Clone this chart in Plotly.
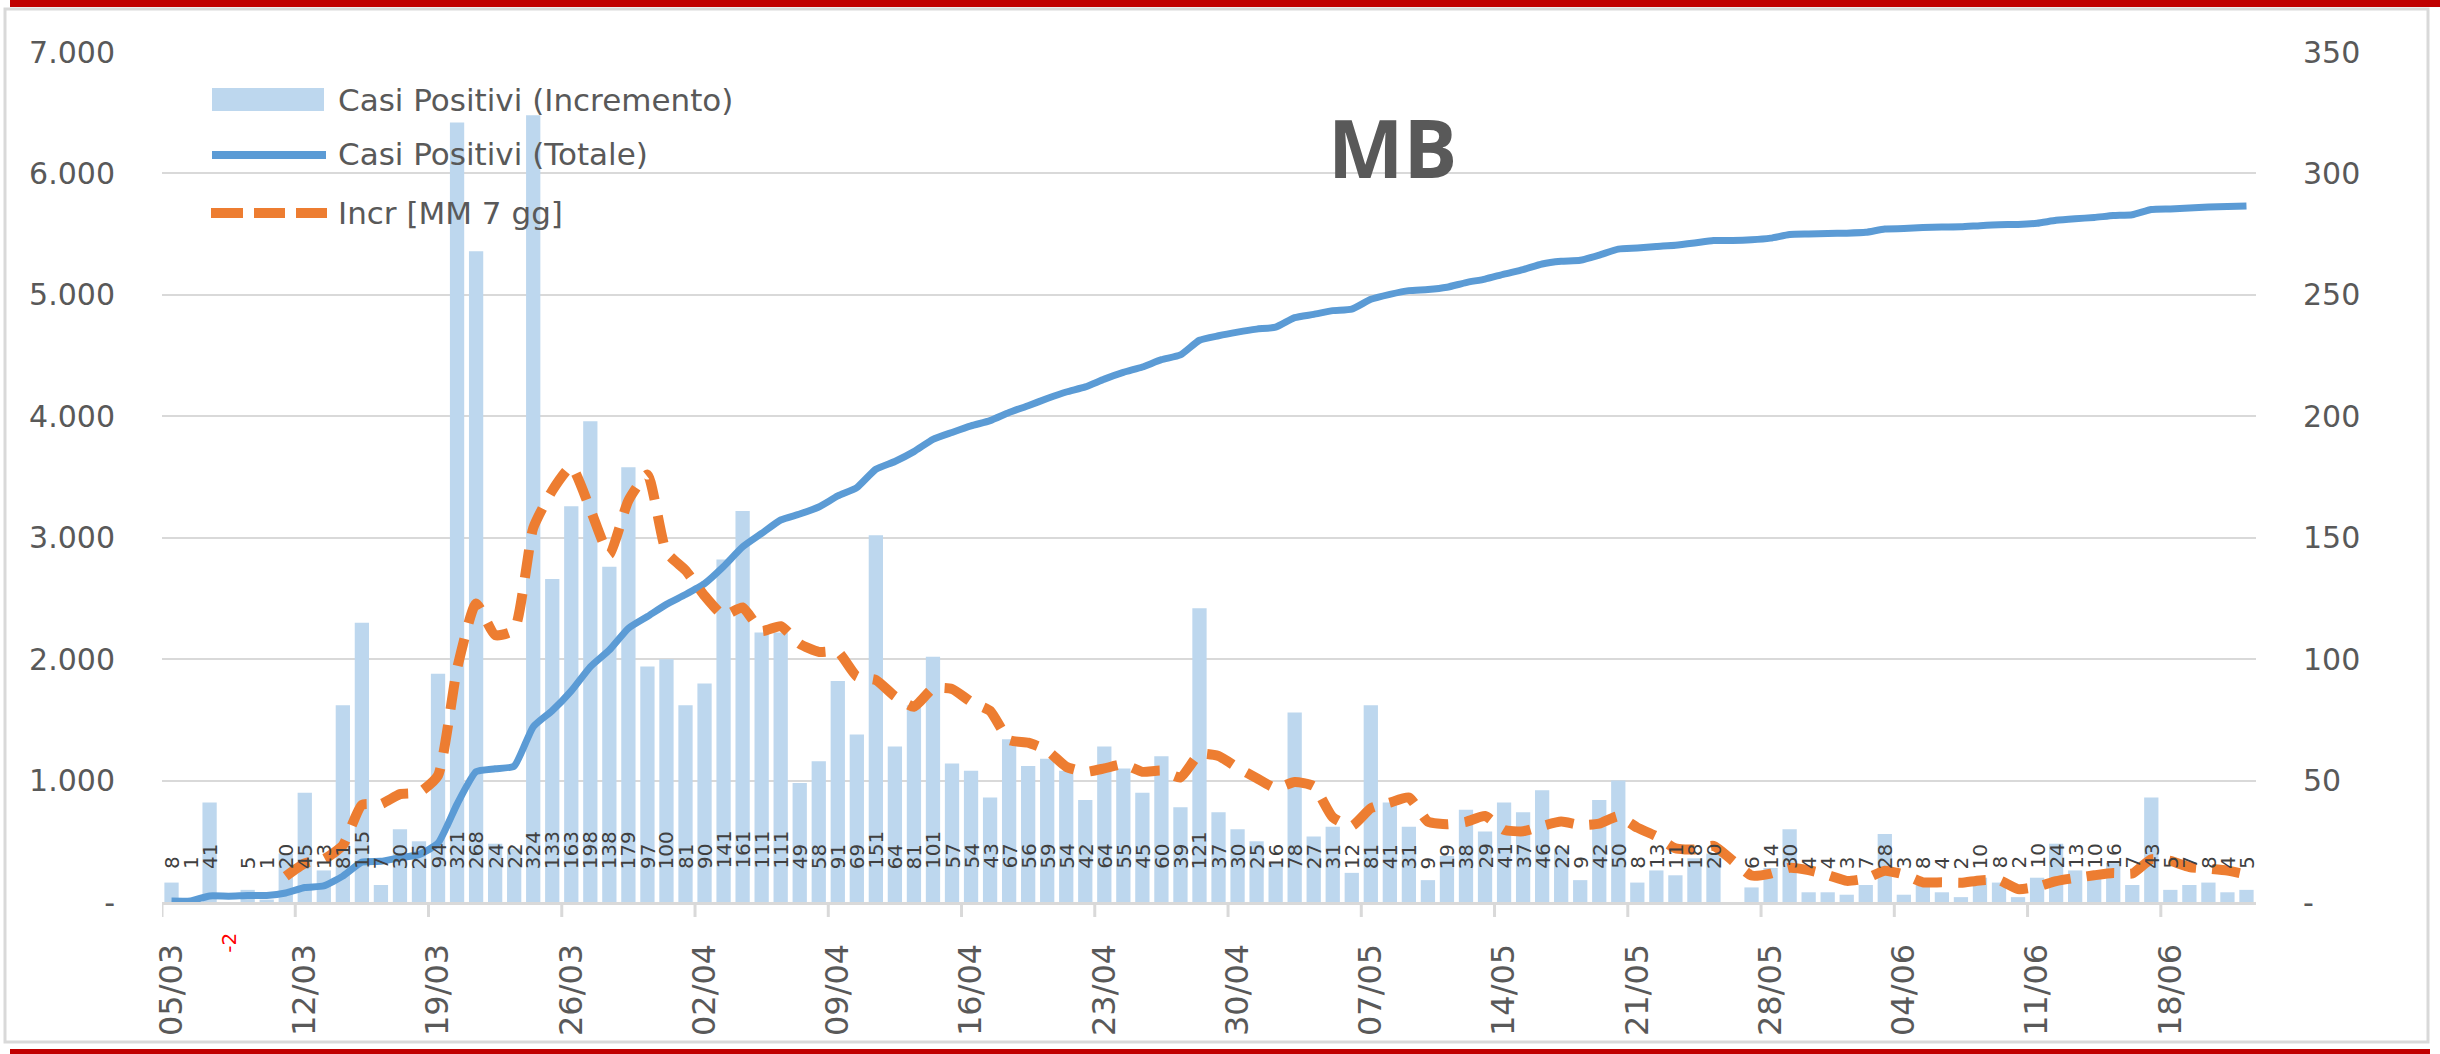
import pandas as pd
import plotly.graph_objects as go

# Giorni di riferimento (05/03 - 22/06)
giorni = list(pd.date_range("2020-03-05", "2020-06-22", freq="D").strftime("%d/%m"))

# Casi positivi: incremento giornaliero
incremento = [
    8, 1, 41, -2, 5, 1, 20, 45, 13, 81,
    115, 7, 30, 25, 94, 321, 268, 24, 22, 324,
    133, 163, 198, 138, 179, 97, 100, 81, 90, 141,
    161, 111, 111, 49, 58, 91, 69, 151, 64, 81,
    101, 57, 54, 43, 67, 56, 59, 54, 42, 64,
    55, 45, 60, 39, 121, 37, 30, 25, 16, 78,
    27, 31, 12, 81, 41, 31, 9, 19, 38, 29,
    41, 37, 46, 22, 9, 42, 50, 8, 13, 11,
    18, 20, 0, 6, 14, 30, 4, 4, 3, 7,
    28, 3, 8, 4, 2, 10, 8, 2, 10, 24,
    13, 10, 16, 7, 43, 5, 7, 8, 4, 5,
]

# Casi positivi: totale
totale = [
    8, 9, 50, 48, 53, 54, 74, 119, 132, 213,
    328, 335, 365, 390, 484, 805, 1073, 1097, 1119, 1443,
    1576, 1739, 1937, 2075, 2254, 2351, 2451, 2532, 2622, 2763,
    2924, 3035, 3146, 3195, 3253, 3344, 3413, 3564, 3628, 3709,
    3810, 3867, 3921, 3964, 4031, 4087, 4146, 4200, 4242, 4306,
    4361, 4406, 4466, 4505, 4626, 4663, 4693, 4718, 4734, 4812,
    4839, 4870, 4882, 4963, 5004, 5035, 5044, 5063, 5101, 5130,
    5171, 5208, 5254, 5276, 5285, 5327, 5377, 5385, 5398, 5409,
    5427, 5447, 5447, 5453, 5467, 5497, 5501, 5505, 5508, 5515,
    5543, 5546, 5554, 5558, 5560, 5570, 5578, 5580, 5590, 5614,
    5627, 5637, 5653, 5660, 5703, 5708, 5715, 5723, 5727, 5732,
]

# Incremento, media mobile 7 giorni (dal 11/03)
media_mobile = [
    10.6, 15.9, 17.6, 23.3,
    40.0, 40.3, 44.4, 45.1, 52.1, 96.1, 122.9, 109.9, 112.0, 154.0,
    169.4, 179.3, 161.7, 143.1, 165.3, 176.0, 144.0, 136.6, 126.1, 118.0,
    121.3, 111.6, 113.6, 106.3, 103.0, 103.1, 92.9, 91.4, 84.7, 80.4,
    87.9, 87.7, 82.4, 78.7, 66.7, 65.6, 62.4, 55.7, 53.6, 55.0,
    56.7, 53.6, 54.1, 51.3, 60.9, 60.1, 55.3, 51.0, 46.9, 49.4,
    47.7, 34.9, 31.3, 38.6, 40.9, 43.0, 33.1, 32.0, 33.0, 35.4,
    29.7, 29.1, 31.3, 33.1, 31.7, 32.3, 35.3, 30.6, 27.1, 22.1,
    21.6, 23.1, 17.1, 10.9, 11.7, 14.1, 13.1, 11.1, 8.7, 9.7,
    12.9, 11.3, 8.1, 8.1, 7.9, 8.9, 9.0, 5.3, 6.3, 8.6,
    9.9, 11.0, 11.9, 11.7, 17.6, 16.9, 14.4, 13.7, 12.9, 11.3,
]
giorni_mm = giorni[len(giorni) - len(media_mobile):]

etichette_x = giorni[::7]
tick_sx = list(range(0, 7001, 1000))
testo_sx = ["-" if v == 0 else f"{v:,}".replace(",", ".") for v in tick_sx]
tick_dx = list(range(0, 351, 50))
testo_dx = ["-" if v == 0 else str(v) for v in tick_dx]

BLU_BARRE = "#BDD7EE"
BLU_LINEA = "#5B9BD5"
ARANCIO = "#ED7D31"
GRIGIO = "#595959"
GRIGIO_CHIARO = "#D9D9D9"
FONT = "DejaVu Sans"

W, H = 2440, 1054
ML, MR, MT, MB_ = 162, 184, 52, 152


def px_x(px):
    return (px - ML) / (W - ML - MR)


def px_y(py):
    return (H - MB_ - py) / (H - MT - MB_)


fig = go.Figure()

fig.add_trace(go.Bar(
    x=giorni, y=incremento, name="Casi Positivi (Incremento)",
    marker=dict(color=BLU_BARRE, line=dict(width=0)), width=0.75,
    xaxis="x", yaxis="y", showlegend=False,
))
fig.add_trace(go.Scatter(
    x=giorni, y=totale, name="Casi Positivi (Totale)", mode="lines",
    line=dict(color=BLU_LINEA, width=7, shape="spline", smoothing=0.5),
    xaxis="x", yaxis="y2", showlegend=False,
))
fig.add_trace(go.Scatter(
    x=giorni_mm, y=media_mobile, name="Incr [MM 7 gg]", mode="lines",
    line=dict(color=ARANCIO, width=10, dash="28px,16px", shape="spline", smoothing=0.5),
    xaxis="x", yaxis="y3", showlegend=False,
))

annotations = []
# etichette dei valori sulle barre
for g, v in zip(giorni, incremento):
    if v > 0:
        annotations.append(dict(
            x=g, xref="x", y=px_y(871), yref="paper", yanchor="bottom",
            text=str(v), textangle=-90, showarrow=False,
            font=dict(family=FONT, size=20, color="#404040"),
        ))
    elif v < 0:
        annotations.append(dict(
            x=g, xref="x", y=px_y(931), yref="paper", yanchor="top",
            text=str(v), textangle=-90, showarrow=False,
            font=dict(family=FONT, size=20, color="#FF0000"),
        ))

# titolo
annotations.append(dict(
    x=px_x(1392), y=px_y(146), xref="paper", yref="paper",
    xanchor="center", yanchor="middle", text="<b>MB</b>", showarrow=False,
    font=dict(family="Open Sans", size=80, color=GRIGIO),
))

# legenda
voci = [("Casi Positivi (Incremento)", 100), ("Casi Positivi (Totale)", 154),
        ("Incr [MM 7 gg]", 213)]
for testo, py in voci:
    annotations.append(dict(
        x=px_x(336), y=px_y(py), xref="paper", yref="paper",
        xanchor="left", yanchor="middle", text=testo, showarrow=False,
        font=dict(family=FONT, size=31, color=GRIGIO),
    ))

shapes = []
shapes.append(dict(type="rect", xref="paper", yref="paper",
                   x0=px_x(212), x1=px_x(324), y0=px_y(88), y1=px_y(111),
                   fillcolor=BLU_BARRE, line=dict(width=0)))
shapes.append(dict(type="line", xref="paper", yref="paper",
                   x0=px_x(212), x1=px_x(326), y0=px_y(155), y1=px_y(155),
                   line=dict(color=BLU_LINEA, width=8)))
for a, b in [(211, 243), (254, 285), (296, 327)]:
    shapes.append(dict(type="line", xref="paper", yref="paper",
                       x0=px_x(a), x1=px_x(b), y0=px_y(213), y1=px_y(213),
                       line=dict(color=ARANCIO, width=10)))

# tacche dell'asse x sui bordi delle categorie
for i in range(0, len(giorni), 7):
    shapes.append(dict(type="line", xref="x", yref="paper",
                       x0=i - 0.5, x1=i - 0.5, y0=0, y1=px_y(917),
                       line=dict(color=GRIGIO_CHIARO, width=3)))

# cornice del grafico
shapes.append(dict(type="rect", xref="paper", yref="paper",
                   x0=px_x(5), x1=px_x(2428), y0=px_y(9), y1=px_y(1042),
                   line=dict(color=GRIGIO_CHIARO, width=3), fillcolor="rgba(0,0,0,0)",
                   layer="below"))
shapes.append(dict(type="rect", xref="paper", yref="paper",
                   x0=px_x(10), x1=px_x(2440), y0=px_y(0), y1=px_y(7),
                   fillcolor="#C00000", line=dict(width=0)))
shapes.append(dict(type="rect", xref="paper", yref="paper",
                   x0=px_x(10), x1=px_x(2430), y0=px_y(1049), y1=px_y(1054),
                   fillcolor="#C00000", line=dict(width=0)))

fig.update_layout(
    width=W, height=H,
    margin=dict(l=ML, r=MR, t=MT, b=MB_, pad=0),
    paper_bgcolor="white", plot_bgcolor="white",
    font=dict(family=FONT, color=GRIGIO),
    bargap=0.25,
    xaxis=dict(
        type="category", range=[-0.5, len(giorni) - 0.5],
        tickmode="array", tickvals=etichette_x, ticktext=etichette_x,
        tickangle=-90, ticks="", ticklabelstandoff=26,
        tickfont=dict(family=FONT, size=32, color=GRIGIO),
        showline=True, linecolor=GRIGIO_CHIARO, linewidth=3,
        showgrid=False, zeroline=False,
    ),
    yaxis=dict(
        range=[0, 350], side="right", tickmode="array",
        tickvals=tick_dx, ticktext=testo_dx, ticks="", ticklabelstandoff=46,
        tickfont=dict(family=FONT, size=30, color=GRIGIO),
        showgrid=True, gridcolor=GRIGIO_CHIARO, gridwidth=2,
        zeroline=False, showline=False,
    ),
    yaxis2=dict(
        range=[0, 7000], side="left", overlaying="y", tickmode="array",
        tickvals=tick_sx, ticktext=testo_sx, ticks="", ticklabelstandoff=46,
        tickfont=dict(family=FONT, size=30, color=GRIGIO),
        showgrid=False, zeroline=False, showline=False,
    ),
    yaxis3=dict(range=[0, 350], overlaying="y", visible=False),
    annotations=annotations,
    shapes=shapes,
)

fig.write_html("out.html")
